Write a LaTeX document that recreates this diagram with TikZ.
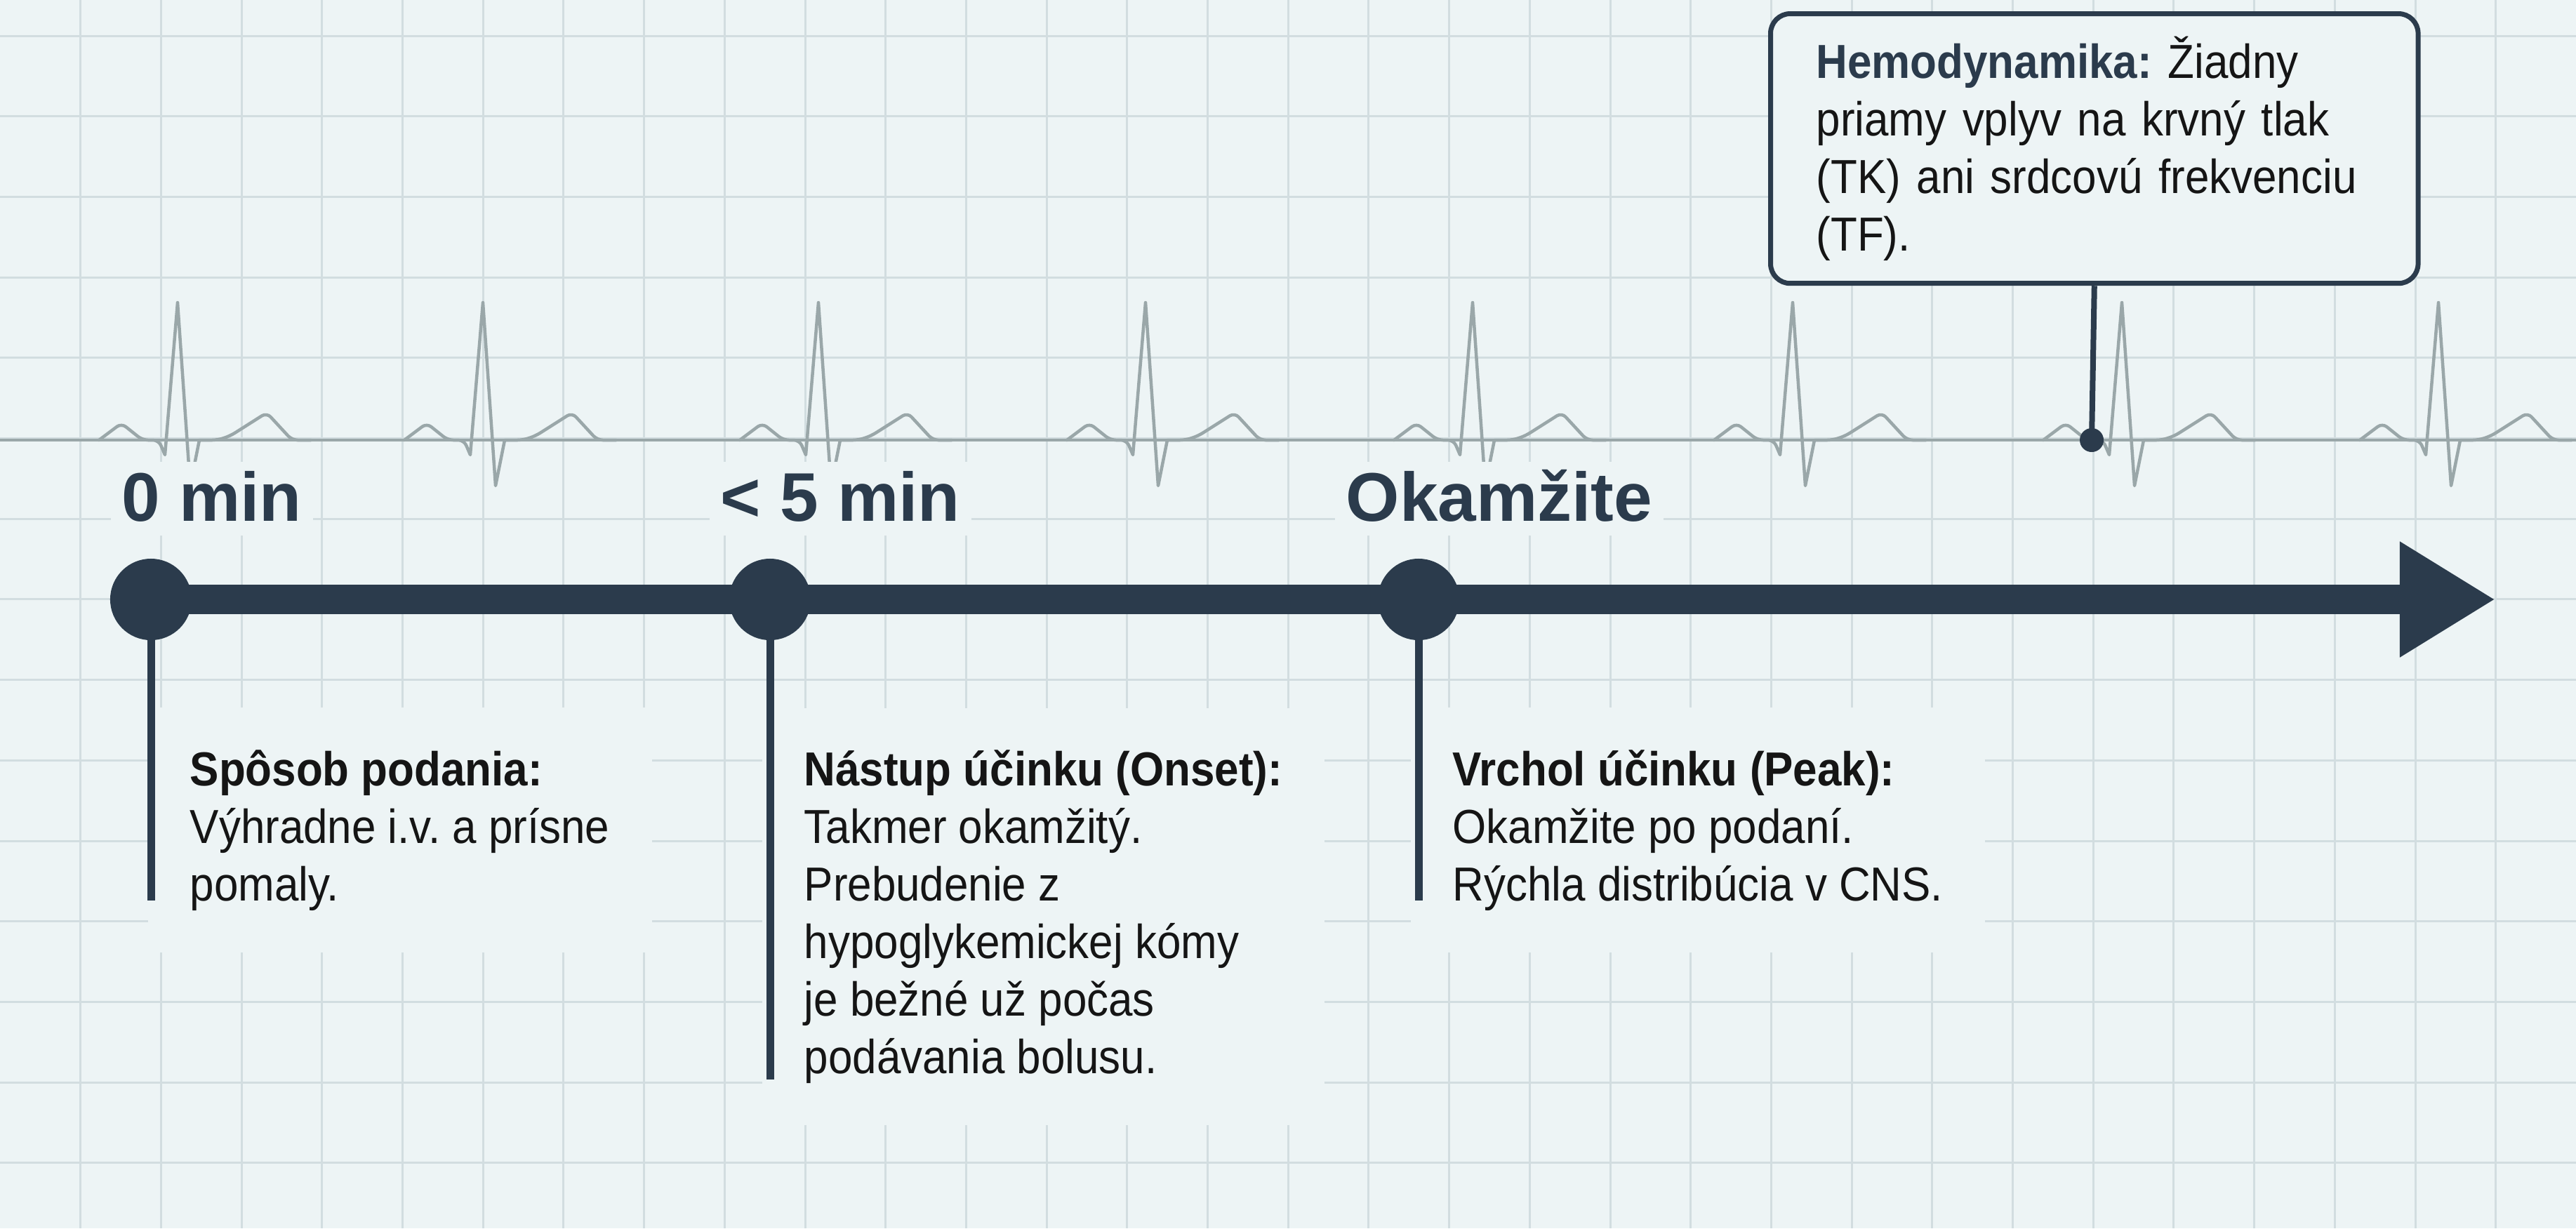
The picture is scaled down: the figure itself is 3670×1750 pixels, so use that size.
\documentclass[tikz,border=0pt]{standalone}
\usepackage{fontspec}
\setmainfont{Liberation Sans}[FakeStretch=0.91]
\newfontfamily\labelfont{Liberation Sans}
\usepackage{tikz}
\usepackage{xcolor}
\usetikzlibrary{arrows.meta, positioning, calc}
\definecolor{cBg}{RGB}{237,244,245}
\definecolor{cGrid}{RGB}{210,221,224}
\definecolor{cEcg}{RGB}{154,167,169}
\definecolor{cNavy}{RGB}{43,59,76}
\definecolor{cText}{RGB}{21,21,21}
\frenchspacing
\tikzset{
    gridline/.style ={draw=cGrid, line width=0.03cm},
    ecgline/.style  ={draw=cEcg, line width=0.045cm, line join=round, line cap=round},
    timebar/.style  ={draw=cNavy, line width=0.42cm, -{Triangle[length=1.36cm, width=1.55cm]}},
    tdot/.style     ={circle, fill=cNavy, minimum size=1.16cm, inner sep=0pt},
    stemline/.style ={draw=cNavy, line width=0.11cm},
    tlabel/.style   ={font=\labelfont\fontsize{27.9}{33}\selectfont\bfseries, text=cNavy, fill=cBg, inner xsep=0.16cm, inner ysep=0pt, text height=24pt, text depth=6pt, anchor=base west},
    infotext/.style ={font=\fontsize{19.35}{23.3}\selectfont, text=cText, fill=cBg, inner sep=0.6cm, align=left, anchor=base west},
    infobox/.style  ={rectangle, rounded corners=0.28cm, draw=cNavy, line width=0.07cm, fill=cBg, font=\fontsize{19.35}{23.3}\selectfont, text=cText, align=left, text width=7.92cm, inner xsep=0.65cm, minimum height=3.84cm, anchor=north west},
}

\begin{document}
\begin{tikzpicture}[x=0.01cm, y=-0.01cm]
    \useasboundingbox (0,0) rectangle (3670,1750);
    \fill[cBg] (0,0) rectangle (3670,1750);
    % grid
    \foreach \k in {1,...,31} \draw[gridline] ({114.7*\k},0) -- ({114.7*\k},1750);
    \foreach \k in {0,...,14} \draw[gridline] (0,{51+114.7*\k}) -- (3670,{51+114.7*\k});
    % ecg trace
    \draw[ecgline] (0,627) -- (3670,627);
    \foreach \r in {253,688,1166,1632,2098,2554,3023,3474} {
        \draw[ecgline] (\r-112,627) [rounded corners=0.08cm] -- (\r-80,603) -- (\r-50,627) -- (\r-27,627)
            [sharp corners] -- (\r-18,648) -- (\r,431) -- (\r+18,692) -- (\r+31,627)
            [rounded corners=0.08cm] -- (\r+57,627) -- (\r+75,621) -- (\r+127,588) -- (\r+163,627) -- (\r+190,627);
    }
    % time labels
    \node[tlabel] (l0) at (157,742)  {0 min};
    \node[tlabel] (l1) at (1010,742) {< 5 min};
    \node[tlabel] (l2) at (1901,742) {Okamžite};
    % descriptions (anchored at the last line)
    \node[infotext] (t0) at (210,1283)  {\textbf{Spôsob podania:}\\Výhradne i.v. a prísne\\pomaly.};
    \node[infotext] (t1) at (1085,1529) {\textbf{Nástup účinku (Onset):}\\Takmer okamžitý.\\Prebudenie z\\hypoglykemickej kómy\\je bežné už počas\\podávania bolusu.};
    \node[infotext] (t2) at (2009,1283) {\textbf{Vrchol účinku (Peak):}\\Okamžite po podaní.\\Rýchla distribúcia v CNS.};
    % timeline
    \coordinate (c0) at (215,854);
    \coordinate (c1) at (1097,854);
    \coordinate (c2) at (2021,854);
    \coordinate (tip) at (3555,854);
    \draw[timebar] (c0) -- (tip);
    \coordinate (e0) at (215,1283);
    \coordinate (e1) at (1097,1538);
    \coordinate (e2) at (2021,1283);
    \foreach \i in {0,1,2} {
        \node[tdot] (d\i) at (c\i) {};
        \draw[stemline] (d\i.center) -- (e\i);
    }
    % hemodynamics callout
    \node[infobox] (hemo) at (2519,16) {\textcolor{cNavy}{\textbf{Hemodynamika:}} Žiadny\\priamy vplyv na krvný tlak\\(TK) ani srdcovú frekvenciu\\(TF).};
    \node[circle, fill=cNavy, minimum size=0.34cm, inner sep=0pt] (hdot) at (2980,627) {};
    \draw[cNavy, line width=0.08cm] (hemo.south) -- (hdot.center);
\end{tikzpicture}
\end{document}
